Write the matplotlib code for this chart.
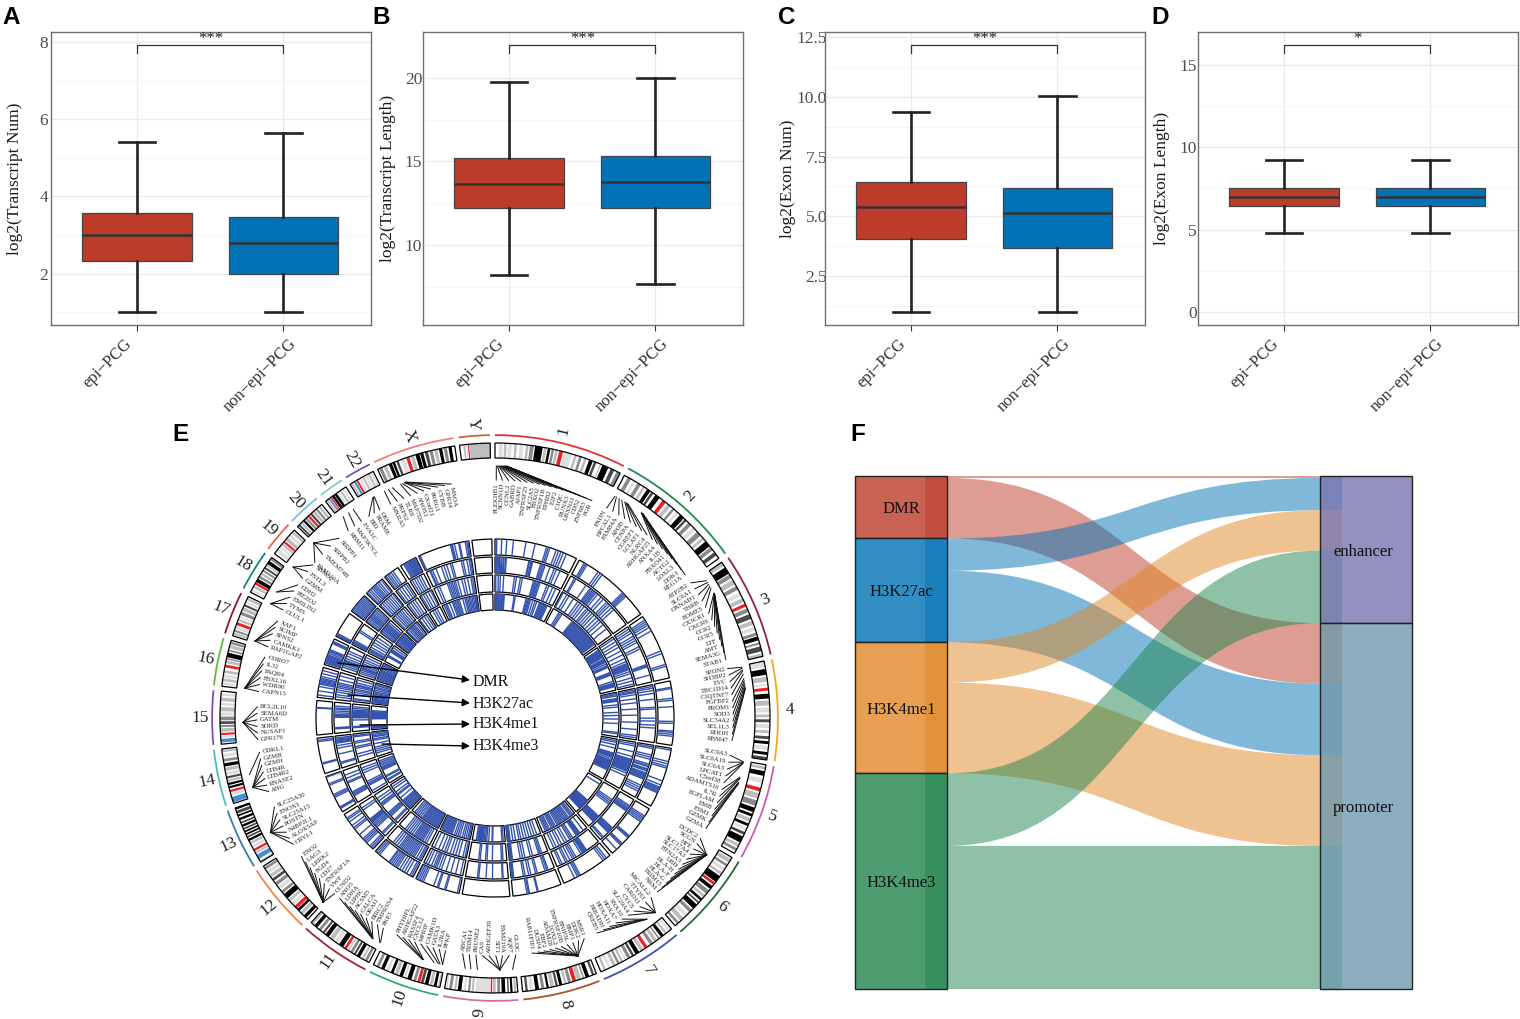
import numpy as np
import matplotlib
matplotlib.use("Agg")
import matplotlib.pyplot as plt
from matplotlib.path import Path
from matplotlib.patches import PathPatch, Rectangle
from matplotlib.transforms import ScaledTranslation

plt.rcParams['font.family'] = ['Liberation Serif', 'DejaVu Serif']
W, H = 1520, 1019

# ---------------- box plots ----------------
groups = ['epi\u2212PCG', 'non\u2212epi\u2212PCG']
box_colors = ['#BC3C29', '#0072B5']
ylabels = ['log2(Transcript Num)', 'log2(Transcript Length)', 'log2(Exon Num)', 'log2(Exon Length)']
# low whisker, q1, median, q3, high whisker
stats_a = [(1.0, 2.32, 3.0, 3.58, 5.4), (1.0, 2.0, 2.8, 3.46, 5.65)]
stats_b = [(8.2, 12.2, 13.65, 15.2, 19.75), (7.65, 12.2, 13.8, 15.3, 20.0)]
stats_c = [(1.0, 4.05, 5.37, 6.42, 9.37), (1.0, 3.67, 5.12, 6.2, 10.02)]
stats_d = [(4.8, 6.43, 7.0, 7.53, 9.23), (4.8, 6.43, 7.0, 7.53, 9.23)]
major_a, minor_a = [2, 4, 6, 8], [1, 3, 5, 7]
major_b, minor_b = [10, 15, 20], [7.5, 12.5, 17.5]
major_c, minor_c = [2.5, 5.0, 7.5, 10.0, 12.5], [1.25, 3.75, 6.25, 8.75, 11.25]
major_d, minor_d = [0, 5, 10, 15], [2.5, 7.5, 12.5]
limits = [(0.666, 8.26), (5.21, 22.75), (0.45, 12.71), (-0.79, 17.0)]
brackets = [(7.92, 7.72, '***'), (21.98, 21.5, '***'), (12.17, 11.84, '***'), (16.2, 15.74, '*')]
tick_fmt = ['{:.0f}', '{:.0f}', '{:.1f}', '{:.0f}']
panel_x = [51, 423, 825, 1198]
ylabel_px = [23.5, 396.5, 796.5, 1170.5]
tick_pad = [2.0, 0.5, -1.5, 1.0]
xlabel_shift_px = [-13, 5]
panel_letters_top = [('A', 2), ('B', 372), ('C', 778), ('D', 1151)]


def fig_box(x0, y0, x1, y1):
    return [x0 / W, 1 - y1 / H, (x1 - x0) / W, (y1 - y0) / H]


def px(x, y):
    return (x / W, 1 - y / H)


fig = plt.figure(figsize=(W / 100, H / 100), dpi=100)
fig.patch.set_facecolor('white')

all_stats = [stats_a, stats_b, stats_c, stats_d]
all_major = [major_a, major_b, major_c, major_d]
all_minor = [minor_a, minor_b, minor_c, minor_d]
for i in range(4):
    ax = fig.add_axes(fig_box(panel_x[i], 32, panel_x[i] + 320, 325))
    stats = [dict(whislo=s[0], q1=s[1], med=s[2], q3=s[3], whishi=s[4], fliers=[]) for s in all_stats[i]]
    ax.set_axisbelow(True)
    bp = ax.bxp(stats, positions=[1, 2], widths=0.75, patch_artist=True, showfliers=False,
                whiskerprops=dict(color='#222222', lw=1.9), capprops=dict(color='#222222', lw=1.9),
                medianprops=dict(color='#333333', lw=1.8), boxprops=dict(edgecolor='#444444', lw=0.9),
                capwidths=0.25, manage_ticks=False)
    for b, c in zip(bp['boxes'], box_colors):
        b.set_facecolor(c)
    ax.set_xlim(0.41, 2.6)
    ax.set_ylim(*limits[i])
    ax.set_xticks([1, 2])
    ax.set_xticklabels(groups, rotation=45, ha='right', rotation_mode='anchor', fontsize=12, color='#333333')
    ax.set_yticks(all_major[i])
    ax.set_yticklabels([tick_fmt[i].format(v) for v in all_major[i]], fontsize=12.5, color='#4D4D4D')
    ax.set_yticks(all_minor[i], minor=True)
    ax.tick_params(axis='x', length=4, color='#333333', width=0.8, pad=4)
    ax.tick_params(axis='y', which='major', length=0, pad=tick_pad[i])
    ax.tick_params(axis='y', which='minor', length=0)
    for lab, sh in zip(ax.get_xticklabels(), xlabel_shift_px):
        lab.set_transform(lab.get_transform() + ScaledTranslation(sh / 100, 0, fig.dpi_scale_trans))
    ax.grid(True, which='major', color='#EBEBEB', lw=0.9)
    ax.grid(True, which='minor', axis='y', color='#F2F2F2', lw=0.5)
    ax.set_ylabel(ylabels[i], fontsize=12.5, color='#1A1A1A')
    ax.yaxis.set_label_coords((ylabel_px[i] - panel_x[i]) / 320, 0.5)
    for s in ax.spines.values():
        s.set_color('#707070')
        s.set_linewidth(1.0)
    top, bot, star = brackets[i]
    ax.plot([1, 1, 2, 2], [bot, top, top, bot], color='#333333', lw=0.9)
    ax.annotate(star, (1.5, top), xytext=(0, 4.5), textcoords='offset points', ha='center', va='center',
                fontsize=12, color='#222222', annotation_clip=False)

for letter, x in panel_letters_top:
    fig.text(x / W, 1 - 24 / H, letter, fontsize=17.5, fontweight='bold', family='Liberation Sans', ha='left', va='baseline')
fig.text(172 / W, 1 - 441 / H, 'E', fontsize=17.5, fontweight='bold', family='Liberation Sans', ha='left', va='baseline')
fig.text(850 / W, 1 - 441 / H, 'F', fontsize=17.5, fontweight='bold', family='Liberation Sans', ha='left', va='baseline')

# ---------------- circos ----------------
chrom_names = ['1', '2', '3', '4', '5', '6', '7', '8', '9', '10', '11', '12', '13', '14', '15', '16', '17', '18',
               '19', '20', '21', '22', 'X', 'Y']
chrom_len_mb = [249, 243, 198, 191, 181, 171, 159, 146, 141, 135, 135, 133, 115, 107, 102, 90, 81, 78, 59, 63, 48, 51, 155, 59]
chrom_colors = ['#E8302E', '#1F8A50', '#8E1C54', '#F5A623', '#C85CB0', '#1F6B34', '#3B4FB0', '#A5522D', '#D96BA5',
                '#2EAF6D', '#A5202F', '#F58345', '#2F7EB5', '#45BFB8', '#7D4FB5', '#5DBB3D', '#8B1A2B', '#0E8577',
                '#F0604A', '#6CC6E8', '#7FD3B0', '#7E4FAE', '#F57F73', '#C46A2A']
shades = {'k': '#000000', 'd': '#4A4A4A', 'm': '#8A8A8A', 'l': '#BDBDBD', 'v': '#DEDEDE', 'R': '#F01D24', 'B': '#4A90C8'}

# (start %, end %, shade) for each chromosome's stripes
bands = [
    [(3, 6, 'v'), (7, 9, 'l'), (10, 13, 'v'), (15, 17, 'l'), (19, 22, 'v'), (24, 26, 'l'), (27, 30, 'm'), (31, 37, 'k'), (38, 40, 'l'), (41, 43, 'k'), (44, 46, 'm'), (47, 49, 'l'), (50, 53, 'R'), (54, 60, 'v'), (62, 64, 'l'), (66, 68, 'm'), (70, 72, 'l'), (74, 77, 'k'), (78, 80, 'd'), (83, 84, 'l'), (85, 90, 'k'), (92, 95, 'd'), (97, 100, 'm')],
    [(3, 6, 'm'), (8, 10, 'v'), (12, 15, 'm'), (17, 19, 'l'), (21, 24, 'k'), (25, 27, 'd'), (29, 33, 'k'), (36, 39, 'R'), (41, 44, 'l'), (46, 48, 'm'), (50, 52, 'v'), (54, 58, 'k'), (59, 61, 'd'), (63, 66, 'm'), (68, 71, 'v'), (73, 77, 'm'), (79, 81, 'l'), (83, 88, 'k'), (89, 92, 'm'), (94, 97, 'd')],
    [(0, 4, 'l'), (6, 13, 'k'), (14, 18, 'm'), (20, 25, 'l'), (27, 31, 'm'), (34, 38, 'v'), (40, 44, 'l'), (46, 49, 'R'), (51, 55, 'm'), (57, 62, 'd'), (64, 68, 'l'), (70, 74, 'v'), (76, 79, 'm'), (80, 84, 'k'), (86, 88, 'm'), (90, 95, 'd'), (97, 100, 'l')],
    [(0, 6, 'v'), (8, 14, 'k'), (16, 21, 'l'), (23, 25, 'v'), (27, 30, 'R'), (33, 38, 'k'), (40, 45, 'l'), (47, 52, 'v'), (54, 57, 'l'), (59, 62, 'd'), (64, 68, 'v'), (70, 73, 'l'), (76, 79, 'd'), (81, 84, 'k'), (86, 90, 'v'), (92, 95, 'k'), (97, 100, 'd')],
    [(2, 5, 'l'), (7, 12, 'k'), (15, 20, 'v'), (25, 29, 'R'), (31, 37, 'l'), (39, 45, 'm'), (47, 52, 'k'), (54, 57, 'k'), (59, 63, 'l'), (65, 68, 'k'), (70, 73, 'v'), (75, 78, 'd'), (80, 87, 'k'), (89, 92, 'l'), (94, 97, 'm')],
    [(2, 7, 'l'), (9, 12, 'm'), (14, 18, 'v'), (20, 23, 'l'), (25, 33, 'k'), (34, 37, 'R'), (39, 43, 'k'), (45, 50, 'm'), (52, 55, 'l'), (57, 60, 'k'), (62, 64, 'd'), (66, 72, 'k'), (74, 78, 'm'), (81, 85, 'v'), (87, 92, 'l'), (94, 97, 'm')],
    [(2, 5, 'v'), (7, 10, 'l'), (12, 16, 'k'), (18, 20, 'm'), (22, 26, 'l'), (28, 32, 'm'), (36, 40, 'R'), (42, 46, 'l'), (48, 53, 'k'), (55, 58, 'd'), (60, 64, 'm'), (66, 68, 'v'), (70, 73, 'l'), (75, 78, 'm'), (80, 84, 'l'), (87, 90, 'v'), (93, 96, 'l')],
    [(3, 6, 'd'), (10, 15, 'k'), (17, 19, 'm'), (21, 27, 'l'), (28, 33, 'R'), (35, 39, 'm'), (41, 44, 'l'), (47, 51, 'k'), (53, 56, 'd'), (58, 63, 'l'), (65, 68, 'k'), (71, 75, 'm'), (78, 83, 'k'), (86, 90, 'v'), (93, 96, 'd')],
    [(2, 5, 'l'), (7, 10, 'k'), (12, 14, 'd'), (17, 22, 'k'), (24, 28, 'm'), (30, 34, 'l'), (35, 37, 'R'), (38, 58, 'v'), (60, 63, 'l'), (65, 68, 'm'), (71, 74, 'v'), (77, 82, 'k'), (84, 87, 'l'), (90, 94, 'm'), (96, 99, 'v')],
    [(1, 3, 'l'), (5, 9, 'k'), (11, 15, 'l'), (17, 22, 'k'), (24, 28, 'd'), (29, 33, 'R'), (35, 39, 'm'), (42, 48, 'k'), (50, 53, 'v'), (55, 60, 'k'), (62, 67, 'l'), (69, 73, 'k'), (76, 80, 'v'), (83, 88, 'k'), (91, 95, 'm')],
    [(3, 7, 'm'), (9, 12, 'l'), (15, 20, 'k'), (22, 25, 'd'), (27, 31, 'm'), (33, 35, 'l'), (37, 41, 'R'), (43, 50, 'k'), (52, 58, 'v'), (60, 66, 'l'), (68, 74, 'k'), (76, 79, 'd'), (82, 86, 'm'), (89, 94, 'k'), (96, 99, 'l')],
    [(3, 8, 'k'), (10, 15, 'l'), (17, 21, 'k'), (22, 27, 'R'), (29, 33, 'v'), (36, 40, 'l'), (42, 50, 'k'), (52, 56, 'm'), (59, 64, 'v'), (66, 71, 'm'), (74, 78, 'd'), (80, 85, 'l'), (87, 92, 'v'), (94, 98, 'm')],
    [(0, 3, 'l'), (6, 14, 'B'), (16, 19, 'l'), (21, 25, 'R'), (27, 32, 'v'), (34, 38, 'l'), (40, 44, 'k'), (46, 49, 'd'), (51, 54, 'k'), (56, 59, 'k'), (61, 64, 'd'), (66, 70, 'k'), (72, 75, 'd'), (78, 82, 'k'), (85, 88, 'k'), (90, 95, 'd'), (97, 100, 'k')],
    [(2, 12, 'B'), (14, 20, 'v'), (21, 25, 'R'), (28, 32, 'k'), (34, 38, 'k'), (40, 44, 'l'), (46, 50, 'd'), (52, 58, 'v'), (60, 66, 'l'), (68, 74, 'k'), (77, 82, 'm'), (85, 91, 'v'), (94, 98, 'l')],
    [(3, 10, 'B'), (12, 16, 'v'), (17, 21, 'R'), (23, 30, 'l'), (32, 36, 'm'), (38, 43, 'd'), (45, 52, 'm'), (54, 60, 'v'), (62, 70, 'l'), (73, 78, 'v'), (81, 88, 'l'), (91, 96, 'v')],
    [(3, 9, 'v'), (11, 17, 'l'), (19, 26, 'v'), (29, 35, 'l'), (41, 47, 'R'), (50, 56, 'l'), (58, 61, 'm'), (63, 73, 'k'), (76, 80, 'm'), (83, 90, 'l'), (92, 97, 'm')],
    [(3, 8, 'l'), (10, 15, 'm'), (17, 24, 'v'), (27, 34, 'R'), (37, 43, 'l'), (46, 50, 'v'), (53, 61, 'm'), (64, 72, 'l'), (75, 80, 'd'), (83, 88, 'v'), (91, 97, 'l')],
    [(3, 9, 'v'), (13, 19, 'l'), (22, 28, 'R'), (29, 38, 'k'), (41, 47, 'm'), (50, 56, 'l'), (59, 64, 'm'), (67, 72, 'd'), (75, 79, 'l'), (81, 90, 'k'), (93, 98, 'm')],
    [(8, 20, 'v'), (24, 32, 'v'), (36, 44, 'l'), (46, 53, 'R'), (56, 68, 'l'), (72, 82, 'v'), (87, 96, 'l')],
    [(4, 10, 'd'), (13, 20, 'l'), (23, 30, 'k'), (33, 40, 'm'), (43, 50, 'R'), (53, 60, 'd'), (63, 72, 'l'), (75, 82, 'm'), (86, 94, 'l')],
    [(5, 12, 'l'), (15, 22, 'B'), (24, 30, 'R'), (32, 42, 'k'), (44, 55, 'k'), (58, 66, 'v'), (70, 78, 'l'), (82, 90, 'v')],
    [(4, 12, 'l'), (16, 25, 'B'), (27, 34, 'R'), (37, 48, 'v'), (52, 60, 'l'), (64, 72, 'v'), (76, 84, 'l'), (88, 95, 'v')],
    [(2, 6, 'm'), (8, 12, 'l'), (15, 19, 'k'), (20, 23, 'k'), (25, 28, 'd'), (31, 36, 'v'), (38, 42, 'R'), (44, 48, 'l'), (50, 55, 'k'), (56, 60, 'k'), (62, 66, 'd'), (68, 72, 'm'), (74, 78, 'l'), (80, 84, 'k'), (86, 90, 'm'), (92, 96, 'k')],
    [(12, 18, 'l'), (22, 26, 'v'), (27, 31, 'R'), (32, 100, 'l')],
]

# positions (%) of the marks along each chromosome, one list per chromosome, per track
dmr_marks = [
    [2, 8, 14, 22, 37, 48, 62, 64, 66, 74, 77, 80, 83, 87],
    [7, 9, 11, 27, 30, 33, 66, 68, 70, 72],
    [6, 9, 12, 15, 19, 25, 58, 62, 79, 82],
    [10, 12, 27, 30, 40, 63, 66, 78, 80, 83, 86],
    [3, 22, 26, 30, 33, 55, 62, 66, 68, 70, 72, 74, 76],
    [15, 18, 21, 24, 27, 58, 60, 62, 76, 78, 80, 90],
    [8, 12, 16, 66, 69, 72, 78],
    [48, 50, 66, 68, 71],
    [],
    [4, 30, 33, 47, 50, 58, 82, 86, 90, 94, 98],
    [4, 8, 16, 22, 28, 34, 40, 44, 48, 52, 56, 60, 62, 88, 92, 96],
    [2, 6, 10, 20, 24, 28, 32, 44, 60, 64, 70, 80, 86, 90],
    [10, 12, 14, 42, 46, 50, 76, 80, 98],
    [27, 30, 90, 94],
    [78, 80],
    [8, 22, 36, 44, 48, 52, 56, 60, 64, 70, 80, 90],
    [6, 10, 14, 18, 22, 26, 30, 34, 38, 44, 50, 54, 58, 82, 86, 90],
    [4, 8, 12],
    [6, 14, 22, 30, 38, 46, 54, 62, 70, 78, 86, 94],
    [6, 16, 26, 36, 44, 52, 60, 70, 80, 92],
    [10, 22, 34, 48, 62],
    [20, 28, 36, 44, 50, 56, 62, 68, 74, 80, 86, 92],
    [1, 3, 64, 66, 68, 72, 80, 82, 93, 96, 98],
    [],
]
k27_marks = [
    [0, 2, 3, 5, 6, 8, 9, 11, 12, 14, 15, 45, 46, 48, 49, 50, 61, 63, 65, 67, 74, 80, 83, 88],
    [6, 8, 24, 31, 33, 35, 37, 39, 41, 44, 50, 54, 60, 63, 66, 70, 74],
    [4, 8, 12, 18, 22, 26, 30, 38, 42, 70, 72, 74, 88],
    [3, 6, 10, 15, 25, 39, 42, 58, 63, 70, 75],
    [3, 6, 18, 22, 26, 35, 38, 40, 44, 46, 48, 52, 54, 56, 58, 60, 62, 64, 76, 80, 84, 88],
    [14, 17, 20, 22, 24, 26, 68, 70, 72, 74, 76, 78, 80, 92, 95],
    [30, 32, 34, 36, 38, 40, 44, 56, 60, 64, 70, 76, 80, 88, 92],
    [15, 18, 22, 40, 44, 55, 60, 68, 72, 94, 96, 98, 99],
    [12, 14, 37, 52, 69, 72],
    [6, 18, 30, 42, 54, 60, 66, 70, 74, 80, 88, 94],
    [4, 8, 14, 20, 24, 28, 32, 36, 40, 44, 48, 52, 56, 60, 64, 70, 76, 82],
    [8, 12, 30, 34, 38, 42, 46, 48, 50, 52, 54, 56, 84, 90],
    [22, 26, 30, 34, 62, 66, 76, 86],
    [14, 18, 44, 62, 70, 78, 81, 84, 87, 90, 94],
    [14, 16, 18, 52, 54, 56, 58, 60, 66, 72, 78, 82, 88],
    [10, 18, 28, 36, 44, 50, 56, 62, 74, 88],
    [12, 20, 28, 34, 38, 42, 50, 60, 72, 82],
    [6, 10, 14, 20, 60, 68],
    [8, 18, 28, 36, 44, 52, 60, 70, 80, 90],
    [8, 20, 32, 44, 56, 68, 80, 92],
    [12, 30, 50, 70, 86],
    [14, 30, 46, 62, 78],
    [8, 10, 14, 22, 34, 40, 46, 54, 58, 78, 82, 90, 95, 98],
    [],
]
me1_marks = [
    [0, 1, 5, 8, 13, 29, 32, 38, 41, 58, 60, 62, 64, 66, 68, 79, 82, 88, 93],
    [2, 8, 12, 20, 28, 32, 36, 40, 45, 48, 52, 56, 60, 65, 70, 74, 80, 88],
    [4, 10, 16, 22, 30, 38, 46, 52, 56, 58, 60, 62, 64, 66, 68, 72, 76, 84, 90, 96],
    [3, 6, 8, 12, 20, 28, 40, 52, 66, 80, 92, 96],
    [4, 8, 20, 30, 36, 38, 40, 42, 44, 46, 48, 50, 52, 54, 56, 58, 60, 62, 66, 72],
    [24, 28, 32, 36, 70, 72, 74, 76, 78, 80, 82, 84, 86],
    [10, 20, 22, 24, 26, 28, 30, 40, 44, 48, 56, 62, 70, 76, 84, 90],
    [16, 20, 24, 40, 46, 60, 66, 72, 92, 94, 96, 98],
    [10, 14, 38, 52, 56, 70, 74],
    [4, 10, 22, 30, 38, 46, 56, 62, 70, 80, 92],
    [10, 16, 22, 26, 30, 34, 38, 42, 46, 50, 56, 62, 68, 74, 80],
    [8, 12, 26, 30, 34, 38, 64, 68, 72, 80, 88],
    [8, 28, 32, 36, 42, 72, 80, 88],
    [20, 30, 50, 56, 68, 74, 90, 94],
    [14, 16, 18, 42, 50, 52, 54, 56, 58, 60, 62, 64, 66, 70, 74, 78, 84, 90],
    [8, 12, 30, 38, 46, 52, 60, 66, 70, 78, 90],
    [10, 18, 26, 32, 36, 40, 48, 56, 66, 76, 88],
    [8, 14, 20, 30, 44, 56, 70, 84],
    [4, 14, 24, 32, 40, 48, 56, 64, 72, 84],
    [10, 24, 36, 48, 60, 72, 86],
    [15, 35, 55, 75],
    [12, 30, 48, 70, 90],
    [8, 14, 34, 38, 42, 46, 50, 54, 60, 70, 76, 84, 92, 96],
    [],
]
me3_marks = [
    [0, 1, 3, 4, 6, 7, 9, 10, 12, 13, 15, 16, 33, 35, 54, 56, 58, 60, 62, 66, 70, 73, 78, 80, 82, 84, 86, 88, 90, 92],
    [12, 15, 18, 40, 42, 44, 46, 48, 50, 52, 54, 56, 58, 60, 62, 64, 66, 68, 70, 72, 74, 76, 78, 80, 82, 84, 86, 88, 90, 92, 94, 96],
    [6, 8, 10, 12, 14, 16, 18, 20, 22, 24, 28, 30, 32, 34, 36, 40, 44, 46, 48, 60, 62, 64, 66, 80, 84, 86, 88, 90, 92],
    [2, 5, 8, 14, 16, 18, 20, 28, 33, 45, 52, 60, 70, 90, 93],
    [4, 8, 14, 22, 34, 36, 38, 40, 42, 44, 48, 52, 54, 56, 58, 60, 62, 64, 66, 68, 70, 72, 74, 76],
    [10, 60, 62, 64, 66, 68, 70, 72, 74, 76, 78, 80, 82, 84, 86, 88],
    [6, 10, 14, 20, 24, 28, 32, 36, 40, 44, 48, 52, 56, 62, 66, 70, 74, 80, 84, 88, 92],
    [12, 20, 28, 36, 44, 52, 60, 66, 76, 84, 92, 94, 96, 98, 99],
    [6, 10, 38, 40, 50, 56, 60, 64, 68, 70, 72, 74, 76, 78, 80, 82, 84, 88],
    [4, 8, 14, 20, 26, 34, 40, 46, 52, 60, 64, 68, 72, 76, 80, 84, 88, 92, 96],
    [4, 8, 12, 16, 20, 24, 28, 32, 36, 40, 44, 48, 52, 56, 60, 66, 72, 78, 84, 90],
    [4, 8, 12, 16, 20, 24, 28, 32, 36, 48, 60, 64, 72, 84, 92],
    [12, 16, 26, 30, 54, 58, 62, 66, 72, 78, 84, 90],
    [14, 22, 30, 38, 52, 66, 72, 80, 84, 90, 96],
    [6, 8, 10, 12, 14, 16, 46, 48, 50, 52, 54, 56, 58, 60, 62, 64, 66, 68, 70, 72, 76, 80],
    [6, 10, 14, 18, 22, 28, 34, 40, 46, 52, 58, 66, 74, 80, 88, 94],
    [8, 14, 20, 26, 32, 38, 44, 50, 56, 62, 70, 78, 86, 92],
    [30, 34, 38, 60, 64, 68, 72, 76, 88],
    [10, 20, 30, 40, 48, 56, 64, 72, 80, 90],
    [8, 22, 34, 44, 54, 64, 74, 88],
    [10, 35, 60, 82],
    [30, 50, 70],
    [6, 10, 14, 22, 30, 34, 38, 42, 46, 50, 60, 66, 70, 74, 78, 82, 86, 90, 94, 96, 98],
    [],
]
track_marks = [dmr_marks, k27_marks, me1_marks, me3_marks]
track_radii = [(163, 179), (145, 161), (126, 143), (108, 124)]
mark_color = '#3553AE'

# (gene names, gene position in degrees, first label angle, last label angle)
gene_clusters = [
    (['PLEKHB1', 'SCNN1D', 'CCNL2', 'GABRD', 'AJAP1', 'TNFRSF25', 'SLC2A5', 'FBXO2', 'TNFRSF1B', 'EPHB2', 'E2F2', 'C1QC', 'RUNX3', 'UBXN11', 'CD52', 'ZNF683', 'FGR'],
     [0.3, 0.5, 0.8, 1.0, 1.2, 1.4, 1.6, 1.8, 2.0, 2.2, 2.3, 2.4, 2.5, 2.6, 2.7, 2.7, 2.8], 0.3, 24),
    (['PXDN', 'HPCAL1', 'FAM84A', 'APOB', 'CENPA', 'CGREF1', 'LCLAT1', 'NLRC4', 'ARHGAP25', 'ANXA4', 'IL1B', 'FBXO41', 'ACTG2', 'LOXL3', 'DOK1', 'REG1A'],
     [28.4, 28.8, 29.5, 30.2, 31, 31.3, 31.6, 31.9, 35.5, 35.6, 35.7, 35.8, 35.8, 35.9, 35.9, 36], 28, 53),
    (['ATP2B2', 'SLC6A1', 'OXNAD1', 'THRB', 'EOMES', 'CX3CR1', 'CXCR6', 'CCR2', 'CCR5', 'LTF', 'AMT', 'SEMA3G', 'STAB1'],
     [57, 57.5, 58, 58.5, 59, 60.3, 60.4, 60.5, 60.5, 60.6, 60.6, 60.7, 60.7], 55.4, 75.8),
    (['SPON2', 'SH3BP2', 'EVC', 'TBC1D14', 'C1QTNF7', 'FGFBP2', 'PROM1', 'SOD3', 'SLC34A2', 'SEL1L3', 'RHOH', 'RBM47'],
     [78.4, 78.6, 79, 79.3, 80, 81, 81.5, 82, 82.5, 83, 83.2, 83.4], 78, 95.4),
    (['SLC9A3', 'SLC6A19', 'SLC6A3', 'LPCAT1', 'C5orf38', 'ADAMTS16', 'IL7R', 'EGFLAM', 'EMB', 'ESM1', 'GZMK', 'GZMA'],
     [100, 100.1, 100.2, 100.3, 100.4, 103.6, 103.8, 104, 104.8, 105, 105.1, 105.2], 99, 117.6),
    (['DCDC2', 'SCGN', 'HFE', 'SLC17A4', 'SLC17A3', 'BTN2A3', 'UBD', 'HLA-H', 'HLA-F', 'HLA-G', 'TRIM15', 'NRM'],
     [122.9, 122.9, 122.9, 122.9, 122.9, 122.9, 122.9, 122.9, 122.9, 122.9, 122.9, 122.9], 120.4, 136.9),
    (['MICALL2', 'TTYH3', 'CARD11', 'CYCS', 'SLC29A4', 'SNX10', 'HOXA7', 'HOXA11', 'HIBADH', 'CREB5'],
     [140.5, 140.5, 140.5, 140.6, 140.6, 143, 143, 143, 143, 143], 139, 154.6),
    (['MSR1', 'DOK2', 'BMP1', 'BNIP3L', 'TNFRSF10B', 'LOXL2', 'ADAM28', 'EBF2', 'DUSP4', 'RAB11FIP1'],
     [160.8, 160.8, 160.8, 160.8, 160.8, 160.8, 160.8, 160.8, 160.8, 160.8], 158, 171),
    (['GLDC', 'AQP7', 'FAM219A', 'SIT1', 'ARHGEF39', 'CA9', 'PRUNE2', 'TRIM14', 'ABCA1'],
     [176, 178.9, 178.9, 178.9, 178.9, 178.9, 184, 185.5, 186.8], 175, 187.8),
    (['PFKP', 'IL2RA', 'GATA3', 'CAMK1D', 'MPRIP', 'CXCL12', 'RASSF4', 'ARHGAP22', 'PHYHIPL'],
     [192, 192, 192.6, 193, 194, 196.5, 196.6, 196.7, 196.8], 192, 204.3),
    (['PKP3', 'TMPRSS4', 'BIRC2', 'ORAI1', 'CALCA', 'ACSM5', 'LIPHC', 'LDHA', 'ANO5'],
     [207, 207.2, 209, 209, 209, 209.1, 209.1, 209.2, 209.2], 208, 220.7),
    (['CCND2', 'VWF', 'TNFRSF1A', 'CD27', 'FGD4', 'LRRK2', 'LAG3', 'ENO2'],
     [223, 223, 223, 223, 223, 223, 223, 223], 222.4, 234.4),
    (['CRYL1', 'ALOX5AP', 'N4BP2L1', 'POSTN', 'SLC25A15', 'ENOX1', 'SLC25A30'],
     [243, 243, 243, 243, 243, 243, 243], 238, 248),
    (['ANG', 'RNASE2', 'LTB4R2', 'LTB4R', 'GZMH', 'GZMB', 'CDKL1'],
     [254, 254, 254, 254, 254, 254, 257], 252, 261.7),
    (['GPR176', 'NUSAP1', 'SORD', 'GATM', 'SEMA6D', 'BCL2L10'],
     [269, 269, 269, 269, 269, 269], 264.8, 272.7),
    (['CAPN15', 'WDR90', 'FBXL16', 'PAQR4', 'IL32', 'CORO7'],
     [276.8, 276.8, 276.8, 276.8, 276.8, 276.8], 276.4, 284.8),
    (['RAP1GAP2', 'CAMKK1', 'SPNS2', 'SCIMP', 'XAF1'],
     [287.8, 287.8, 287.8, 287.8, 287.8], 287.4, 294),
    (['CLUL1', 'TYMS', 'EMILIN2', 'PIEZO2', 'CDH2'],
     [297, 297, 297, 300, 300], 297, 304),
    (['GZMM', 'FSTL3', 'SBNO2'], [306.8, 306.8, 306.8], 306, 310),
    (['FAM110A', 'TMEM74B', 'SIRPB2', 'SIRPB1'], [314, 314, 314, 314], 310.8, 319),
    (['RBM11', 'MAP3K7CL', 'EVA1C'], [323, 324.5, 325.8], 321.9, 325.8),
    (['BID', 'PRAME', 'OSM'], [331, 331.2, 331.4], 328, 331),
    (['MXRA5', 'PRPS2', 'TLR8', 'MAP7D2', 'ANOS1', 'CXorf21', 'PRRG1', 'CYBB', 'GPR34', 'MAOA'],
     [334, 335, 336, 338, 338.5, 339, 339, 339.2, 339.3, 339.4], 334, 349.4),
]
track_labels = ['DMR', 'H3K27ac', 'H3K4me1', 'H3K4me3']
label_px = [(473, 682), (473, 703.5), (473, 724), (473, 746)]
arrow_start_px = [(338, 663), (348, 695), (360, 725), (382, 744)]
arrow_end_px = [(470, 680), (470, 703), (470, 724), (470, 746)]

CX, CY, RM = 495, 718, 290
pol = fig.add_axes(fig_box(CX - RM, CY - RM, CX + RM, CY + RM), polar=True)
pol.set_theta_zero_location('N')
pol.set_theta_direction(-1)
pol.set_autoscale_on(False)
pol.set_ylim(0, RM)
pol.axis('off')
gap = 1.0
deg_per_mb = (360 - gap * len(chrom_len_mb)) / sum(chrom_len_mb)
start = 0.0
for idx, (name, length) in enumerate(zip(chrom_names, chrom_len_mb)):
    span = length * deg_per_mb
    t0 = np.radians(start)
    width = np.radians(span)
    pol.bar(t0, 1.8, width=width, bottom=282, align='edge', color=chrom_colors[idx], lw=0)
    for b0, b1, sh in bands[idx]:
        pol.bar(t0 + width * b0 / 100, 15, width=width * (b1 - b0) / 100, bottom=260, align='edge',
                color=shades[sh], lw=0)
    pol.bar(t0, 15, width=width, bottom=260, align='edge', facecolor='none', edgecolor='black', lw=0.9)
    for marks, (r0, r1) in zip(track_marks, track_radii):
        if marks[idx]:
            pol.vlines(t0 + width * np.array(marks[idx]) / 100, r0, r1, color=mark_color, lw=1.0)
        pol.bar(t0, r1 - r0, width=width, bottom=r0, align='edge', facecolor='none', edgecolor='black', lw=0.9)
    mid = start + span / 2
    rot = 90 - mid if mid < 180 else 270 - mid
    pol.text(np.radians(mid), 295, name, rotation=rot, rotation_mode='anchor', ha='center', va='center',
             fontsize=12.5, color='#222222')
    start += span + gap

for names, gene_deg, l0, l1 in gene_clusters:
    for j, (nm, g) in enumerate(zip(names, gene_deg)):
        th = l0 + (l1 - l0) * j / (len(names) - 1)
        pol.plot(np.radians([g, th]), [252, 238], color='#111111', lw=0.7)
        if th < 180:
            rot, ha = 90 - th, 'right'
        else:
            rot, ha = 270 - th, 'left'
        pol.text(np.radians(th), 235, nm, rotation=rot, rotation_mode='anchor', ha=ha, va='center',
                 fontsize=4.9, color='#222222')

for lab, lp, s, e in zip(track_labels, label_px, arrow_start_px, arrow_end_px):
    fig.text(lp[0] / W, 1 - lp[1] / H, lab, fontsize=11.5, ha='left', va='center', color='#111111')
    pol.annotate('', xy=px(*e), xytext=px(*s), xycoords='figure fraction', textcoords='figure fraction',
                 arrowprops=dict(arrowstyle='-|>', color='black', lw=1.0, mutation_scale=11, shrinkA=0, shrinkB=0))

# ---------------- sankey ----------------
sources = ['DMR', 'H3K27ac', 'H3K4me1', 'H3K4me3']
targets = ['enhancer', 'promoter']
source_colors = ['#BC3C29', '#0072B5', '#E18727', '#20854E']
target_colors = ['#7876B1', '#6F99AD']
to_enhancer = [2, 32, 40, 72]
to_promoter = [60, 71, 90, 142]

sk = fig.add_axes(fig_box(855, 476, 1412, 989))
total = sum(to_enhancer) + sum(to_promoter)
sk.set_xlim(855, 1412)
sk.set_ylim(total, 0)
sk.axis('off')
node_w = 92
strip = 22
lx0, lx1 = 855, 855 + node_w
rx1, rx0 = 1412, 1412 - node_w


def ribbon(y0a, y0b, y1a, y1b, color):
    xs, xe = lx1 - strip, rx0 + strip
    xm = (lx1 + rx0) / 2
    verts = [(xs, y0a), (lx1, y0a), (xm, y0a), (xm, y1a), (rx0, y1a), (xe, y1a),
             (xe, y1b), (rx0, y1b), (xm, y1b), (xm, y0b), (lx1, y0b), (xs, y0b), (xs, y0a)]
    codes = [Path.MOVETO, Path.LINETO, Path.CURVE4, Path.CURVE4, Path.CURVE4, Path.LINETO,
             Path.LINETO, Path.LINETO, Path.CURVE4, Path.CURVE4, Path.CURVE4, Path.LINETO, Path.CLOSEPOLY]
    sk.add_patch(PathPatch(Path(verts, codes), facecolor=color, edgecolor='none', alpha=0.5))


ly = 0
ey = 0
py = sum(to_enhancer)
node_spans = []
for s, c, e, p in zip(sources, source_colors, to_enhancer, to_promoter):
    node_spans.append((ly, e + p))
    ribbon(ly, ly + e, ey, ey + e, c)
    ly += e
    ey += e
    ribbon(ly, ly + p, py, py + p, c)
    ly += p
    py += p
for s, c, (y, h) in zip(sources, source_colors, node_spans):
    sk.add_patch(Rectangle((lx0, y), node_w, h, facecolor=c, edgecolor='none', alpha=0.8))
    sk.add_patch(Rectangle((lx0, y), node_w, h, facecolor='none', edgecolor='#222222', lw=1.0, clip_on=False))
    sk.annotate(s, (lx0 + 46, y + h / 2), xytext=(0, -1.5), textcoords='offset points', ha='center', va='center',
                fontsize=12, color='#111111')
ty = 0
for s, c, h in zip(targets, target_colors, [sum(to_enhancer), sum(to_promoter)]):
    sk.add_patch(Rectangle((rx0, ty), node_w, h, facecolor=c, edgecolor='none', alpha=0.8))
    sk.add_patch(Rectangle((rx0, ty), node_w, h, facecolor='none', edgecolor='#222222', lw=1.0, clip_on=False))
    sk.annotate(s, (rx0 + 43, ty + h / 2), xytext=(0, -1.5), textcoords='offset points', ha='center', va='center',
                fontsize=12, color='#111111')
    ty += h

fig.savefig('out.png', dpi=100, facecolor='white')
